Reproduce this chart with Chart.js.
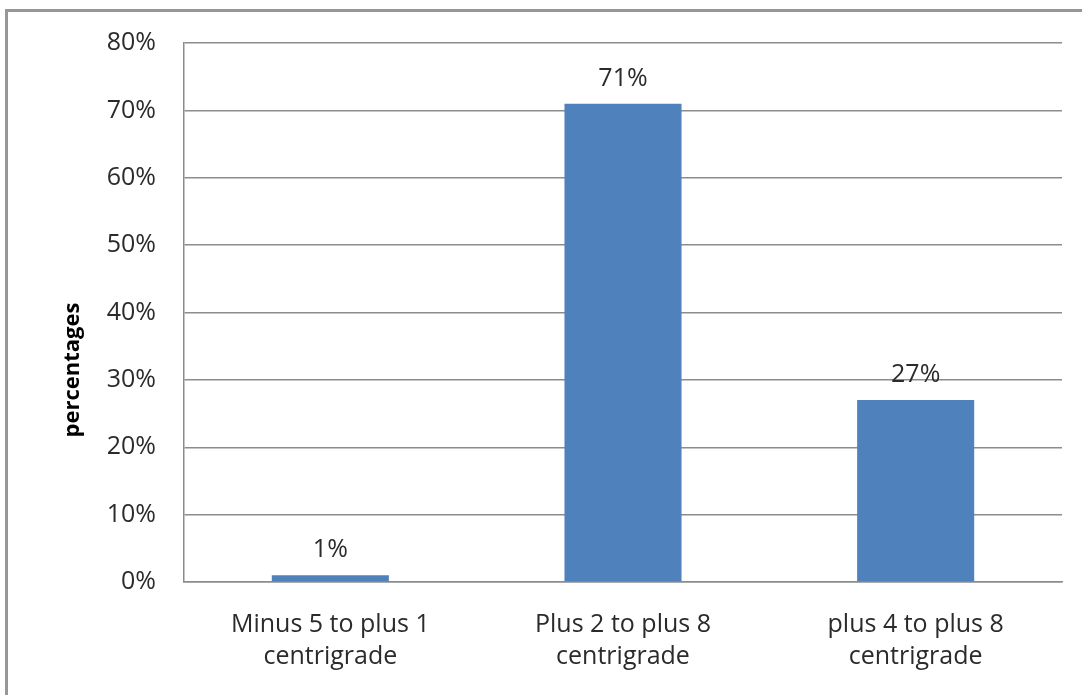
<!DOCTYPE html>
<html>
<head>
<meta charset="utf-8">
<title>Temperature ranges</title>
<script src="https://cdn.jsdelivr.net/npm/chart.js@4/dist/chart.umd.min.js"></script>
<style>
  html, body { margin: 0; padding: 0; background: #ffffff; overflow: hidden; }
  #wrap { position: relative; width: 1082px; height: 695px; }
  #frame {
    position: absolute; left: 5px; top: 9px; width: 1200px; height: 800px;
    border-left: 3px solid #979797; border-top: 3px solid #979797;
    box-sizing: border-box;
  }
  #chart { position: absolute; left: 0; top: 0; }
</style>
</head>
<body>
<div id="wrap">
  <div id="frame"></div>
  <canvas id="chart" width="1082" height="695"></canvas>
</div>
<script>
const categories = [
  ["Minus 5 to plus 1", "centrigrade"],
  ["Plus 2 to plus 8", "centrigrade"],
  ["plus 4 to plus 8", "centrigrade"]
];
const shares = [1, 71, 27];
const yTicks = [0, 10, 20, 30, 40, 50, 60, 70, 80];
const yTitle = "percentages";

const FONT = "'Open Sans', Lato, sans-serif";
const TEXT = "#2b2b2b";
const LINE = "#8c8c8c";

// Percent labels above each bar
const barLabels = {
  id: "barLabels",
  afterDatasetsDraw(chart) {
    const ctx = chart.ctx;
    const meta = chart.getDatasetMeta(0);
    ctx.save();
    ctx.font = "25px " + FONT;
    ctx.fillStyle = TEXT;
    ctx.textAlign = "center";
    ctx.textBaseline = "alphabetic";
    meta.data.forEach((bar, i) => {
      ctx.fillText(shares[i] + "%", bar.x, bar.y - 18);
    });
    ctx.restore();
  }
};

// Rotated y-axis caption
const axisCaption = {
  id: "axisCaption",
  afterDraw(chart) {
    const ctx = chart.ctx;
    ctx.save();
    ctx.translate(73, 370);
    ctx.rotate(-Math.PI / 2);
    ctx.font = "bold 22px " + FONT;
    ctx.fillStyle = "#000000";
    ctx.textAlign = "center";
    ctx.textBaseline = "middle";
    ctx.fillText(yTitle, 0, 0);
    ctx.restore();
  }
};

new Chart(document.getElementById("chart"), {
  type: "bar",
  data: {
    labels: categories,
    datasets: [{
      data: shares,
      backgroundColor: "#4f81bd",
      borderWidth: 0,
      categoryPercentage: 1,
      barPercentage: 0.4
    }]
  },
  options: {
    responsive: false,
    animation: false,
    devicePixelRatio: 1,
    layout: { padding: { left: 40, top: 40, right: 20, bottom: 0 } },
    plugins: {
      legend: { display: false },
      tooltip: { enabled: false }
    },
    scales: {
      x: {
        grid: { display: false, drawTicks: false },
        border: { display: true, color: LINE, width: 1.5 },
        ticks: {
          color: TEXT,
          font: { family: FONT, size: 25, lineHeight: 1.28 },
          padding: 27,
          maxRotation: 0,
          autoSkip: false
        },
        afterFit(scale) { scale.height = 695 - 582; }
      },
      y: {
        min: 0,
        max: 80,
        afterBuildTicks(scale) { scale.ticks = yTicks.map(v => ({ value: v })); },
        grid: { color: LINE, lineWidth: 1.5, drawTicks: false },
        border: { display: true, color: LINE, width: 1.5 },
        ticks: {
          color: TEXT,
          font: { family: FONT, size: 25 },
          padding: 28,
          callback: v => v + "%"
        },
        afterFit(scale) { scale.width = 184 - 40; }
      }
    }
  },
  plugins: [barLabels, axisCaption]
});
</script>
</body>
</html>
